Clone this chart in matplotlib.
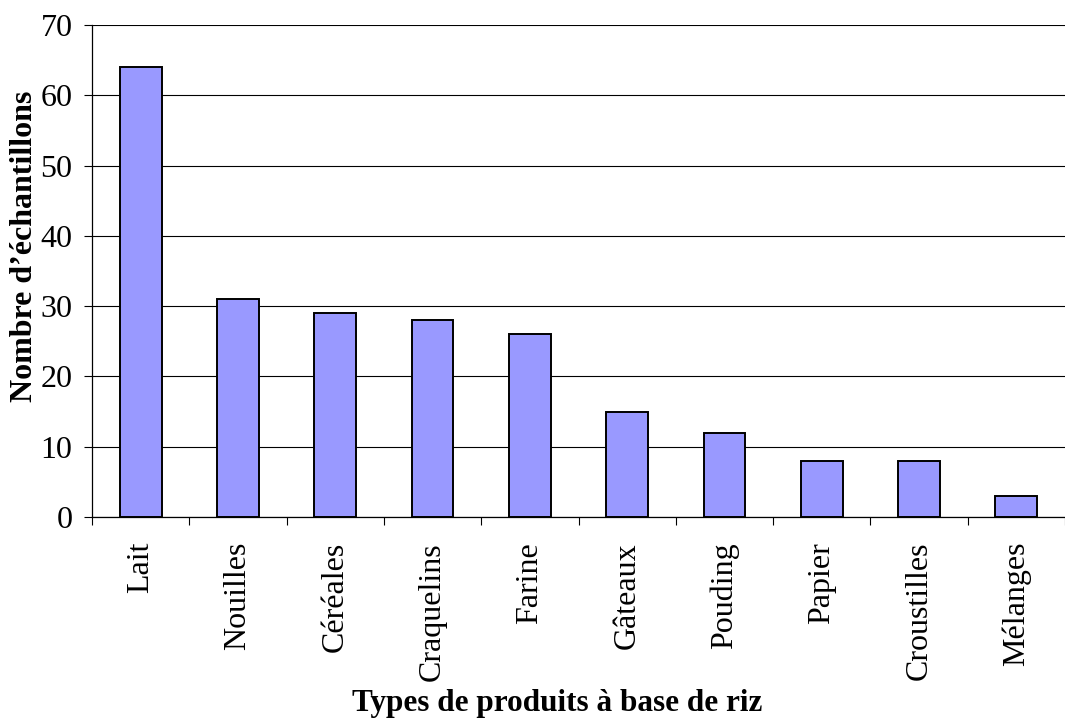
import numpy as np
import matplotlib.pyplot as plt
from matplotlib.ticker import FixedLocator

plt.rcParams['font.family'] = ['Liberation Serif', 'DejaVu Serif']

categories = ["Lait", "Nouilles", "Céréales", "Craquelins", "Farine",
              "Gâteaux", "Pouding", "Papier", "Croustilles", "Mélanges"]
counts = [64, 31, 29, 28, 26, 15, 12, 8, 8, 3]
yticks = [0, 10, 20, 30, 40, 50, 60, 70]

fig = plt.figure(figsize=(10.65, 7.19), dpi=100)
ax = fig.add_axes([0.0864, 0.281, 0.9136, 0.684])

x = np.arange(len(categories))
ax.bar(x, counts, width=0.43, color="#9999ff", edgecolor="black",
       linewidth=1.4, zorder=3)

ax.set_xlim(-0.5, len(categories) - 0.5)
ax.set_ylim(0, 70)
ax.set_yticks(yticks)
ax.yaxis.grid(True, color="black", linewidth=0.8, zorder=0)

# labels centred under bars, tick marks between categories
ax.set_xticks(x)
ax.set_xticklabels(categories, rotation=90, fontsize=23)
ax.tick_params(axis="x", which="major", length=0, pad=18)
ax.xaxis.set_minor_locator(FixedLocator(np.arange(-0.5, len(categories), 1.0)))
ax.tick_params(axis="x", which="minor", length=6, width=0.8, direction="out")
ax.tick_params(axis="y", length=6, width=0.8, direction="out", labelsize=23, pad=8)

for side in ("top", "right"):
    ax.spines[side].set_visible(False)
for side in ("left", "bottom"):
    ax.spines[side].set_linewidth(0.9)

ax.set_ylabel("Nombre d’échantillons", fontsize=23, fontweight="bold")
ax.yaxis.set_label_coords(-0.054, 0.551)
ax.set_xlabel("Types de produits à base de riz", fontsize=22.5, fontweight="bold")
ax.xaxis.set_label_coords(0.478, -0.35)

fig.savefig("out.png", dpi=100)
